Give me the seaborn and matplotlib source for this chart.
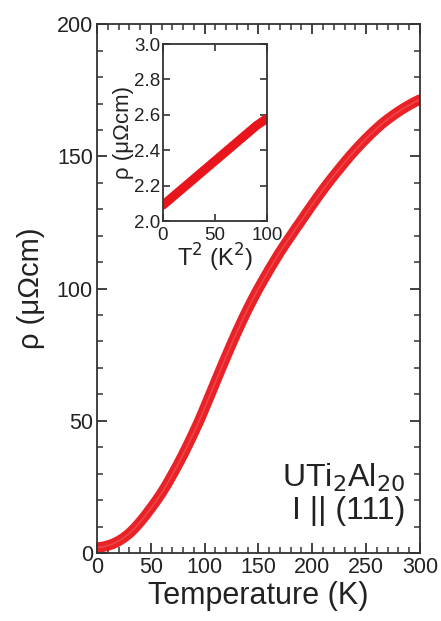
import numpy as np
import matplotlib
matplotlib.use("Agg")
import matplotlib.pyplot as plt
import seaborn as sns
from matplotlib.ticker import MultipleLocator, FormatStrFormatter

# main curve: rho vs T
temp = list(range(0, 301, 5))
rho = [2.1, 2.3, 2.8, 3.5, 4.5, 5.8, 7.4, 9.4, 11.7, 14.2,
       16.9, 19.7, 22.7, 26.0, 29.6, 33.3, 37.2, 41.3, 45.6, 50.0,
       54.8, 59.7, 64.6, 69.5, 74.3, 79.0, 83.6, 88.0, 92.2, 96.2,
       100.0, 103.6, 107.1, 110.5, 113.8, 116.9, 119.9, 122.9, 125.8, 128.8,
       131.7, 134.6, 137.4, 140.1, 142.7, 145.2, 147.7, 150.1, 152.4, 154.6,
       156.7, 158.7, 160.6, 162.4, 164.0, 165.5, 166.9, 168.2, 169.4, 170.5,
       171.5]

# inset: rho vs T^2 (low T)
t_sq = [0, 10, 20, 30, 40, 50, 60, 70, 80, 90, 100]
rho_low = [2.09, 2.14, 2.19, 2.24, 2.29, 2.34, 2.39, 2.44, 2.49, 2.54, 2.58]

red = "#e8161c"

sns.set_theme(style="ticks")
plt.rcParams["font.family"] = ["Liberation Sans", "DejaVu Sans"]
plt.rcParams["axes.edgecolor"] = "#333333"
plt.rcParams["axes.linewidth"] = 1.3

fig = plt.figure(figsize=(4.41, 6.21), dpi=100)
ax = fig.add_axes([0.220, 0.1095, 0.732, 0.8515])

# thick band of overlapping points
sns.lineplot(x=temp, y=rho, ax=ax, color=red, lw=7.5, alpha=0.95,
             solid_capstyle="round", solid_joinstyle="round")
sns.lineplot(x=temp, y=rho, ax=ax, color="#f25a5d", lw=1.2, alpha=0.6)
ax.set_xlim(0, 300)
ax.set_ylim(0, 200)
ax.xaxis.set_major_locator(MultipleLocator(50))
ax.xaxis.set_minor_locator(MultipleLocator(10))
ax.yaxis.set_major_locator(MultipleLocator(50))
ax.yaxis.set_minor_locator(MultipleLocator(10))
ax.tick_params(which="both", direction="in", top=True, right=True,
               colors="#333333", labelcolor="#222222")
ax.tick_params(which="major", length=7, width=1.3, labelsize=15.5, pad=3)
ax.tick_params(which="minor", length=4, width=1.1)
ax.set_xlabel("Temperature (K)", fontsize=22, color="#222222", labelpad=2)
ax.set_ylabel("ρ (μΩcm)", fontsize=21, color="#222222", labelpad=8)
ax.text(0.955, 0.052, "UTi$_2$Al$_{20}$\nI || (111)", transform=ax.transAxes,
        ha="right", va="bottom", fontsize=23, color="#222222", linespacing=1.05)

# inset
axin = fig.add_axes([0.3696, 0.644, 0.2358, 0.285])
sns.lineplot(x=t_sq, y=rho_low, ax=axin, color=red, lw=6.5,
             solid_capstyle="round")
axin.set_xlim(0, 100)
axin.set_ylim(2.0, 3.0)
axin.set_xticks([0, 50, 100])
axin.set_yticks([2.0, 2.2, 2.4, 2.6, 2.8, 3.0])
axin.yaxis.set_major_formatter(FormatStrFormatter("%.1f"))
axin.tick_params(which="both", direction="in", top=True, right=True,
                 colors="#333333", labelcolor="#222222")
axin.tick_params(which="major", length=5, width=1.2, labelsize=13.5)
axin.tick_params(axis="x", pad=4)
axin.tick_params(axis="y", pad=2)
axin.set_xlabel("T$^2$ (K$^2$)", fontsize=17, color="#222222", labelpad=-1)
axin.set_ylabel("ρ (μΩcm)", fontsize=16, color="#222222", labelpad=0)

fig.savefig("out.png", dpi=100)
